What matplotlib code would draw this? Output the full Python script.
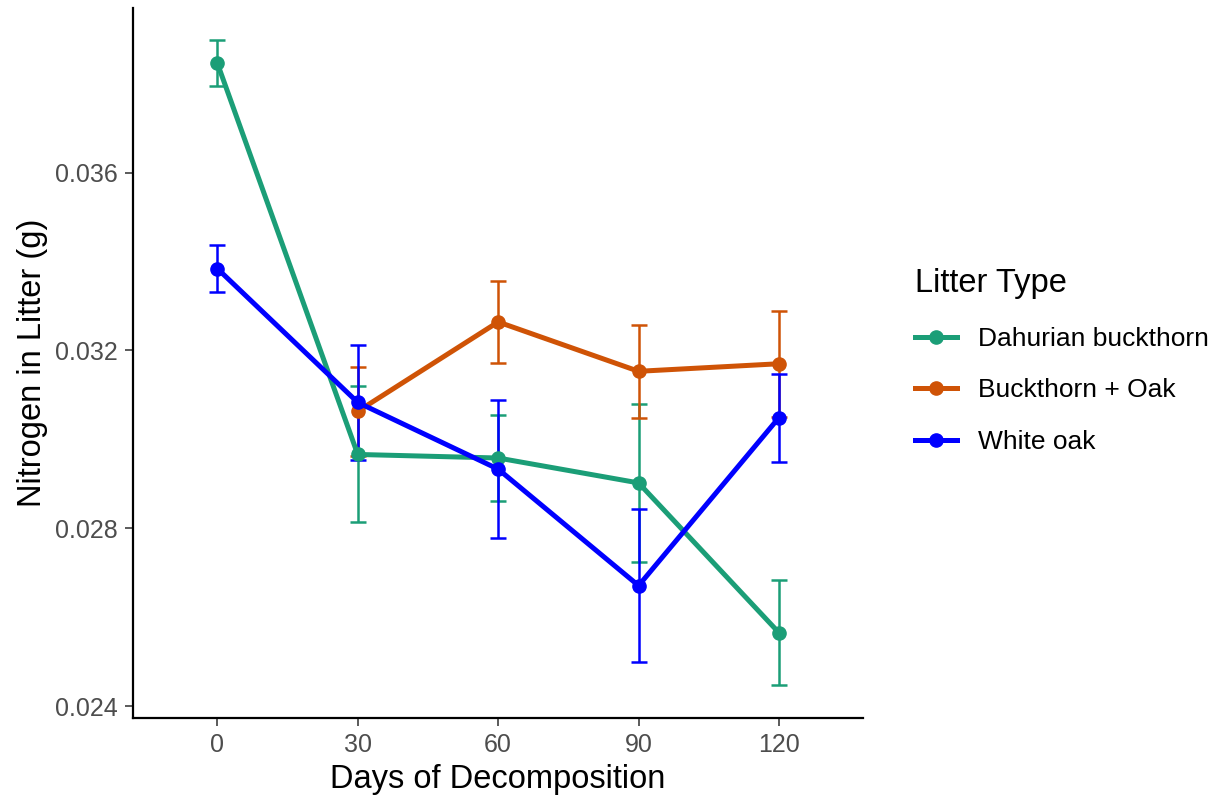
import numpy as np
import matplotlib
matplotlib.use("Agg")
import matplotlib.pyplot as plt
from matplotlib.lines import Line2D

plt.rcParams['font.family'] = ['Liberation Sans', 'DejaVu Sans']

days = [0, 30, 60, 90, 120]

# nitrogen means and error bar half-widths
dahurian = [0.03846, 0.02966, 0.02958, 0.02902, 0.02565]
dahurian_err = [0.00052, 0.00153, 0.00097, 0.00177, 0.00118]
mix_days = [30, 60, 90, 120]
mix = [0.03063, 0.03264, 0.03153, 0.03170]
mix_err = [0.00100, 0.00093, 0.00104, 0.00119]
oak = [0.03384, 0.03083, 0.02933, 0.02671, 0.03049]
oak_err = [0.00053, 0.00130, 0.00155, 0.00172, 0.00099]

labels = ['Dahurian buckthorn', 'Buckthorn + Oak', 'White oak']
colors = ['#1B9E77', '#CF5306', '#0000FF']

fig = plt.figure(figsize=(12.21, 8.01), dpi=100)
ax = fig.add_axes([0.109, 0.104, 0.598, 0.886])

series = [(days, dahurian, dahurian_err), (mix_days, mix, mix_err), (days, oak, oak_err)]
for (x, y, e), c in zip(series, colors):
    ax.errorbar(x, y, yerr=e, fmt='none', ecolor=c, elinewidth=1.8, capsize=5.5, capthick=1.8, zorder=2)
    ax.plot(x, y, color=c, lw=3.6, marker='o', ms=9.5, zorder=3)

ax.set_xlim(-18, 138)
ax.set_ylim(0.02374, 0.0397)
ax.set_xticks(days)
ax.set_yticks([0.024, 0.028, 0.032, 0.036])
ax.set_yticklabels(['0.024', '0.028', '0.032', '0.036'])
ax.tick_params(labelsize=18, colors='#4D4D4D', length=6, width=1.3, pad=5)
for s in ['top', 'right']:
    ax.spines[s].set_visible(False)
for s in ['left', 'bottom']:
    ax.spines[s].set_linewidth(1.6)
ax.set_xlabel('Days of Decomposition', fontsize=23.5, labelpad=5)
ax.set_ylabel('Nitrogen in Litter (g)', fontsize=23.5, labelpad=5)

handles = [Line2D([0], [0], color=c, lw=3.6, marker='o', ms=9.5) for c in colors]
leg = fig.legend(handles, labels, title='Litter Type', loc='upper left',
                 bbox_to_anchor=(0.730, 0.695), frameon=False, fontsize=19,
                 title_fontsize=23.5, handlelength=1.6, handletextpad=0.8,
                 labelspacing=1.05)
leg._legend_box.align = 'left'

fig.savefig('out.png', dpi=100)
